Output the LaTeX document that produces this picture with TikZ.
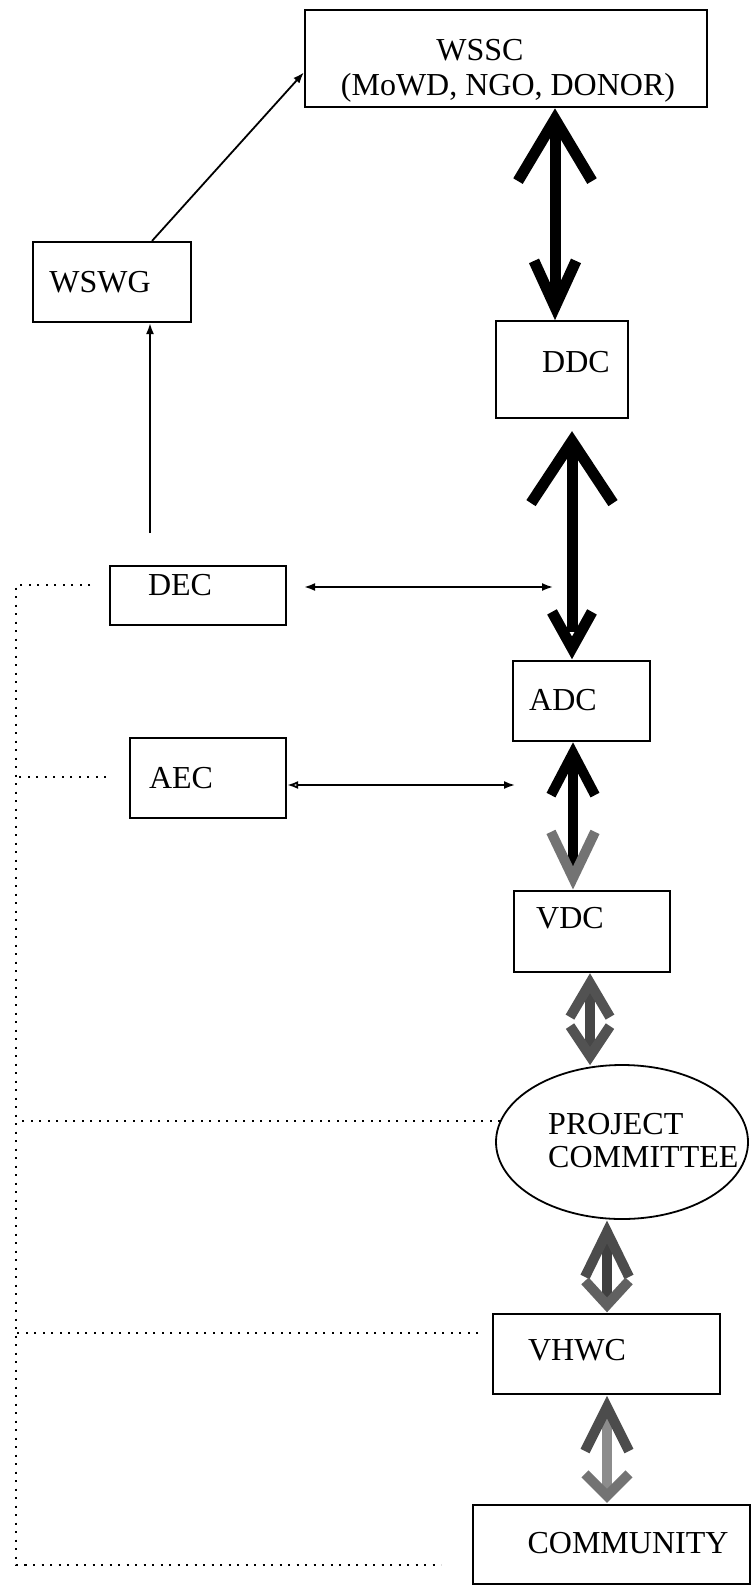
\documentclass[tikz,border=0pt]{standalone}
\usepackage{fontspec}
\setmainfont{Liberation Serif}
\usetikzlibrary{calc,arrows.meta,shapes.geometric}
\newcommand\vhead[4]{%
  \draw[#1, line join=miter, miter limit=20] ($(#2)+(-#4,#3)$) -- (#2) -- ($(#2)+(#4,#3)$);}
\begin{document}
\begin{tikzpicture}[x=1pt,y=-1pt,
  box/.style={draw, line width=2.2pt, rectangle, inner sep=0pt},
  lbl/.style={inner sep=0pt, font=\fontsize{32}{37}\selectfont},
  thinline/.style={line width=1.8pt},
  dotline/.style={line width=2pt, dash pattern=on 2pt off 6.5pt},
  tip/.tip={Latex[length=11pt,width=8pt]},
  otip/.tip={Latex[open,length=11pt,width=8pt]},
  shaft/.style={line width=#1, line cap=butt},
]
\useasboundingbox[fill=white] (0,0) rectangle (752,1586);

% boxes
\node[box, minimum width=402pt, minimum height=97pt] (wssc) at (506,58.5) {};
\node[box, minimum width=158pt, minimum height=80pt] (wswg) at (112,282) {};
\node[box, minimum width=132pt, minimum height=97pt] (ddc) at (562,369.5) {};
\node[box, minimum width=176pt, minimum height=59pt] (dec) at (198,595.5) {};
\node[box, minimum width=137pt, minimum height=80pt] (adc) at (581.5,701) {};
\node[box, minimum width=156pt, minimum height=80pt] (aec) at (208,778) {};
\node[box, minimum width=156pt, minimum height=81pt] (vdc) at (592,931.5) {};
\node[draw, ellipse, line width=1.8pt, inner sep=0pt, minimum width=252pt, minimum height=154pt] (pc) at (622,1142) {};
\node[box, minimum width=227pt, minimum height=80pt] (vhwc) at (606.5,1354) {};
\node[box, minimum width=277pt, minimum height=79pt] (comm) at (611.5,1544.5) {};

% labels
\node[lbl] (t-wssc1) at (480,50) {WSSC};
\node[lbl] (t-wssc2) at (508,88) {(MoWD, NGO, DONOR)};
\node[lbl] (t-wswg) at (100,282) {WSWG};
\node[lbl] (t-ddc) at (576,362) {DDC};
\node[lbl] (t-dec) at (180,585) {DEC};
\node[lbl] (t-adc) at (563,700) {ADC};
\node[lbl] (t-aec) at (181,778) {AEC};
\node[lbl] (t-vdc) at (570,918) {VDC};
\node[lbl, anchor=west] (t-pc1) at (548,1124) {PROJECT};
\node[lbl, anchor=west] (t-pc2) at (548,1157) {COMMITTEE};
\node[lbl] (t-vhwc) at (577,1350) {VHWC};
\node[lbl] (t-comm) at (628,1543) {COMMUNITY};

% x positions of the thick arrows
\coordinate (c1) at (555,0);
\coordinate (c2) at (572,0);
\coordinate (c3) at (573,0);
\coordinate (c4) at (590,0);
\coordinate (c5) at (607,0);
\coordinate (c6) at (607,0);

% arrow 1: WSSC <-> DDC
\coordinate (a1t) at ($(wssc.south -| c1)+(0,11)$);
\coordinate (a1b) at ($(ddc.north -| c1)+(0,-13)$);
\draw[shaft=11pt] (a1t) -- (a1b);
\vhead{line width=11pt}{a1t}{62}{37}
\vhead{line width=11pt}{a1b}{-46}{21}
% arrow 2: DDC <-> ADC
\coordinate (a2t) at ($(ddc.south -| c2)+(0,22)$);
\coordinate (a2b) at ($(adc.north -| c2)+(0,-12)$);
\coordinate (a2s) at ($(adc.north -| c2)+(0,-28)$);
\draw[shaft=11pt] (a2t) -- (a2s);
\vhead{line width=11pt}{a2t}{62}{41}
\vhead{line width=11pt}{a2b}{-36}{20}
% arrow 3: ADC <-> VDC
\coordinate (a3t) at ($(adc.south -| c3)+(0,11)$);
\coordinate (a3b) at ($(vdc.north -| c3)+(0,-12)$);
\draw[shaft=10pt] (a3t) -- (a3b);
\vhead{line width=10pt}{a3t}{42}{22}
\vhead{line width=10pt, black!55}{a3b}{-46}{22}
% arrow 4: VDC <-> PROJECT COMMITTEE
\coordinate (a4t) at ($(vdc.south -| c4)+(0,10)$);
\coordinate (a4b) at ($(pc.north -| c4)+(0,-8)$);
\draw[shaft=10pt, black!72] (a4t) -- (a4b);
\vhead{line width=10pt, black!68}{a4t}{34}{20}
\vhead{line width=10pt, black!68}{a4b}{-30}{20}
% arrow 5: PROJECT COMMITTEE <-> VHWC
\coordinate (a5t) at ($(pc.south -| c5)+(0,12)$);
\coordinate (a5b) at ($(vhwc.north -| c5)+(0,-8)$);
\draw[shaft=10pt, black!75] (a5t) -- (a5b);
\vhead{line width=10pt, black!70}{a5t}{45}{22}
\vhead{line width=10pt, black!62}{a5b}{-24}{22}
% arrow 6: VHWC <-> COMMUNITY
\coordinate (a6t) at ($(vhwc.south -| c6)+(0,12)$);
\coordinate (a6b) at ($(comm.north -| c6)+(0,-8)$);
\draw[shaft=10pt, black!45] (a6t) -- (a6b);
\vhead{line width=10pt, black!70}{a6t}{44}{22}
\vhead{line width=10pt, black!55}{a6b}{-22}{22}

% thin arrows
\coordinate (decup) at (150,533);
\draw[thinline, -tip] (decup) -- (wswg.south -| decup);
\coordinate (wswgtop) at ($(wswg.north west)!0.75!(wswg.north east)$);
\coordinate (wsscin) at ($(wssc.south west)!0.36!(wssc.north west)$);
\draw[thinline, -tip] (wswgtop) -- (wsscin);
\coordinate (decR) at (553,587);
\coordinate (decL) at ($(dec.east |- decR)+(17,0)$);
\draw[thinline, tip-tip] (decL) -- (decR);
\coordinate (aecR) at (515,785);
\draw[thinline, otip-tip] (aec.east |- aecR) -- (aecR);

% dotted lines
\coordinate (dcorner) at (16,1565);
\coordinate (d1) at (90,585);
\coordinate (d2) at (106,777);
\coordinate (d4) at (478,1333);
\coordinate (d5) at (441,1565);
\draw[dotline] (d1) -- (d1 -| dcorner) -- (dcorner) -- (d5);
\draw[dotline] (d2) -- (d2 -| dcorner);
\draw[dotline] (pc.170) -- (pc.170 -| dcorner);
\draw[dotline] (d4) -- (d4 -| dcorner);
\end{tikzpicture}
\end{document}
